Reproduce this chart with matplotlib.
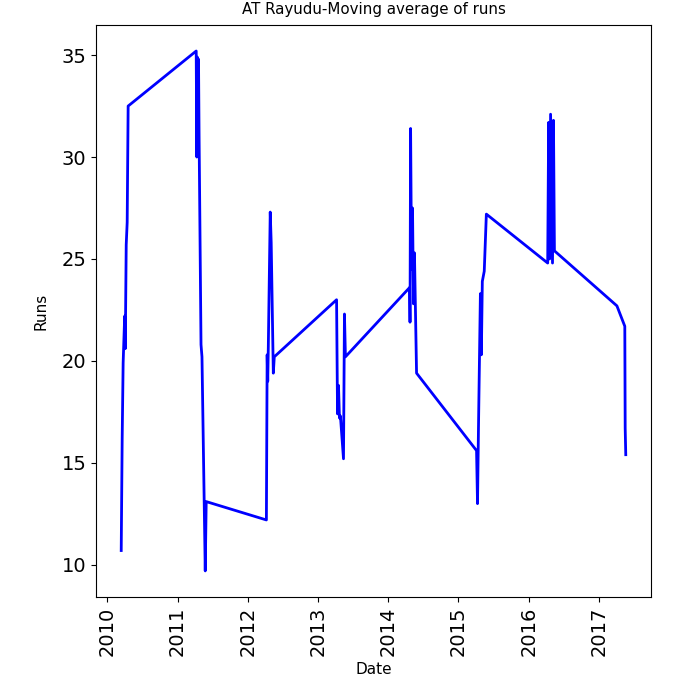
import pandas as pd
import matplotlib
matplotlib.use('Agg')
import matplotlib.pyplot as plt
import matplotlib.dates as mdates

# moving average of runs
dates = [
    '2010-03-14', '2010-03-19', '2010-03-24', '2010-04-01', '2010-04-04',
    '2010-04-09', '2010-04-14', '2010-04-19',
    '2011-04-08', '2011-04-11', '2011-04-14', '2011-04-17', '2011-04-20',
    '2011-04-23', '2011-05-03', '2011-05-08', '2011-05-25', '2011-05-30',
    '2012-04-07', '2012-04-11', '2012-04-14', '2012-04-17', '2012-04-27',
    '2012-05-02', '2012-05-13', '2012-05-18',
    '2013-04-07', '2013-04-12', '2013-04-17', '2013-04-22', '2013-04-27',
    '2013-05-13', '2013-05-18', '2013-05-23',
    '2014-04-22', '2014-04-24', '2014-04-27', '2014-05-02', '2014-05-07',
    '2014-05-12', '2014-05-17', '2014-05-28',
    '2015-04-05', '2015-04-10', '2015-04-15', '2015-04-25', '2015-04-30',
    '2015-05-05', '2015-05-15', '2015-05-26',
    '2016-04-09', '2016-04-14', '2016-04-19', '2016-04-24', '2016-05-04',
    '2016-05-09', '2016-05-14',
    '2017-04-04', '2017-05-15', '2017-05-17', '2017-05-20',
]
runs = [
    10.7, 16.2, 19.9, 22.2, 20.6,
    25.7, 26.8, 32.5,
    35.2, 30.0, 34.9, 30.4, 34.8,
    31.0, 20.8, 20.2, 9.7, 13.1,
    12.2, 20.3, 19.0, 20.7, 27.3,
    25.8, 19.4, 20.2,
    23.0, 17.4, 18.8, 17.2, 17.3,
    15.2, 22.3, 20.2,
    23.6, 21.9, 31.4, 24.5, 27.5,
    22.8, 25.3, 19.4,
    15.6, 13.0, 16.7, 23.3, 20.3,
    23.9, 24.4, 27.2,
    24.8, 31.7, 25.0, 32.1, 24.8,
    31.8, 25.4,
    22.7, 21.7, 16.7, 15.4,
]

dates = pd.to_datetime(dates)

fig = plt.figure(figsize=(6.76, 6.76), dpi=100)
ax = fig.add_axes([0.142, 0.117, 0.821, 0.846])
ax.plot(dates, runs, color='b', linewidth=2)

ax.xaxis.set_major_locator(mdates.YearLocator())
ax.xaxis.set_major_formatter(mdates.DateFormatter('%Y'))
ax.set_yticks([10, 15, 20, 25, 30, 35])
ax.tick_params(axis='both', labelsize=14)
plt.setp(ax.get_xticklabels(), rotation=90)

ax.set_title('AT Rayudu-Moving average of runs', fontsize=10.8, pad=8)
ax.set_xlabel('Date', fontsize=11, labelpad=4)
ax.set_ylabel('Runs', fontsize=11, labelpad=9)

fig.savefig('out.png', dpi=100)
